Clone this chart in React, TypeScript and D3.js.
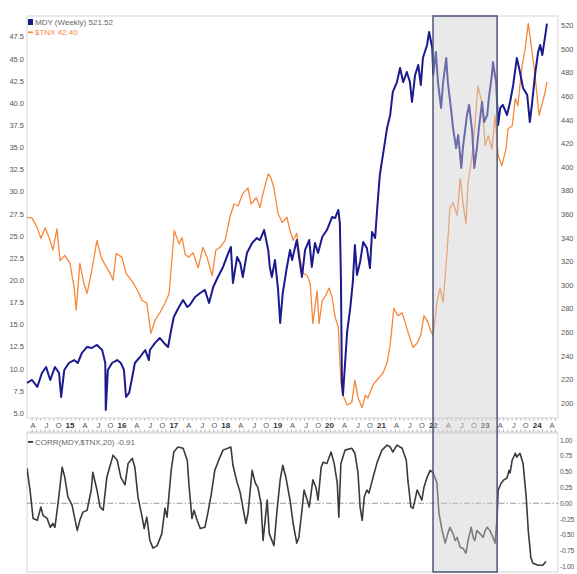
import * as d3 from "d3";

// $TNX (left axis), sampled off the weekly chart; dates as decimal years
const tnxYears = [
  2014.15, 2014.25, 2014.35, 2014.42, 2014.5, 2014.58, 2014.65, 2014.73, 2014.79, 2014.88, 2014.98,
  2015.06, 2015.1, 2015.17, 2015.25, 2015.31, 2015.4, 2015.5, 2015.58, 2015.66, 2015.75, 2015.81, 2015.87, 2015.98,
  2016.06, 2016.21, 2016.31, 2016.37, 2016.46, 2016.54, 2016.62, 2016.72, 2016.81, 2016.89, 2016.99,
  2017.08, 2017.14, 2017.2, 2017.27, 2017.35, 2017.45, 2017.54, 2017.62, 2017.72, 2017.79, 2017.87, 2017.97,
  2018.06, 2018.14, 2018.22, 2018.31, 2018.41, 2018.47, 2018.57, 2018.64, 2018.7, 2018.8, 2018.85, 2018.91, 2018.99,
  2019.07, 2019.16, 2019.22, 2019.28, 2019.35, 2019.41, 2019.47, 2019.55, 2019.61, 2019.66, 2019.74, 2019.78, 2019.84, 2019.91, 2019.97,
  2020.03, 2020.09, 2020.15, 2020.2, 2020.24, 2020.32, 2020.41, 2020.47, 2020.53, 2020.61, 2020.67, 2020.72, 2020.82, 2020.92,
  2021.01, 2021.09, 2021.15, 2021.22, 2021.3, 2021.38, 2021.44, 2021.51, 2021.59, 2021.67, 2021.74, 2021.8, 2021.88, 2021.94, 2021.98,
  2022.05, 2022.11, 2022.17, 2022.25, 2022.3, 2022.36, 2022.44, 2022.5, 2022.55, 2022.61, 2022.65, 2022.73, 2022.78, 2022.84, 2022.92, 2022.98,
  2023.04, 2023.11, 2023.17, 2023.23, 2023.3, 2023.38, 2023.42, 2023.5, 2023.56, 2023.61, 2023.69, 2023.75, 2023.81, 2023.86, 2023.92, 2023.98,
  2024.02, 2024.08, 2024.13, 2024.17,
];
const tnxValues = [
  27.1, 27.0, 25.9, 24.7, 25.9, 24.8, 23.4, 25.8, 22.2, 22.8, 21.9,
  19.2, 16.6, 21.9, 19.6, 18.5, 21.1, 24.5, 22.6, 21.7, 20.8, 20.0, 23.0, 22.6,
  20.8, 19.6, 18.5, 17.7, 17.4, 14.0, 15.5, 16.4, 17.4, 18.5, 25.6,
  24.1, 24.8, 22.9, 22.6, 23.1, 21.4, 23.7, 22.6, 20.5, 23.4, 23.7, 24.5,
  27.1, 28.6, 28.4, 29.8, 30.4, 28.6, 29.3, 28.2, 29.8, 32.0, 31.6, 30.4, 27.5,
  26.5, 27.1, 25.6, 24.5, 25.3, 22.6, 20.8, 20.5, 19.6, 15.1, 18.8, 15.1, 17.7, 18.3, 19.1,
  18.1, 15.8, 14.7, 8.5, 7.0, 5.9, 6.2, 8.7, 6.7, 5.6, 7.0, 6.7, 8.2, 8.9,
  9.5, 10.7, 12.7, 16.8, 16.0, 16.3, 15.2, 13.8, 12.4, 12.9, 13.8, 16.0, 15.2, 14.1, 13.8,
  17.5, 19.1, 17.5, 23.6, 28.1, 28.8, 27.3, 31.5, 28.8, 26.4, 31.0, 34.1, 37.4, 41.9, 40.0, 35.2,
  36.3, 34.8, 38.6, 34.1, 32.9, 34.8, 37.1, 37.4, 40.5, 39.7, 44.2, 46.1, 49.0, 46.8, 44.2, 40.8,
  38.6, 40.0, 41.1, 42.4,
];

// MDY weekly close (right axis)
const mdyYears = [
  2014.15, 2014.25, 2014.35, 2014.44, 2014.52, 2014.6, 2014.69, 2014.77, 2014.81, 2014.87, 2014.96,
  2015.06, 2015.13, 2015.21, 2015.31, 2015.4, 2015.5, 2015.6, 2015.66, 2015.67, 2015.71, 2015.79, 2015.89, 2015.96,
  2016.02, 2016.06, 2016.12, 2016.18, 2016.23, 2016.33, 2016.43, 2016.5, 2016.52, 2016.62, 2016.71, 2016.79, 2016.87, 2016.93, 2016.98,
  2017.08, 2017.16, 2017.24, 2017.29, 2017.39, 2017.49, 2017.58, 2017.66, 2017.74, 2017.83, 2017.93,
  2018.03, 2018.08, 2018.12, 2018.2, 2018.26, 2018.31, 2018.39, 2018.49, 2018.58, 2018.64, 2018.72, 2018.8, 2018.83, 2018.87, 2018.93, 2018.99,
  2019.03, 2019.08, 2019.16, 2019.22, 2019.26, 2019.35, 2019.41, 2019.45, 2019.51, 2019.59, 2019.64, 2019.7, 2019.76, 2019.84, 2019.93,
  2020.03, 2020.09, 2020.15, 2020.18, 2020.2, 2020.22, 2020.24, 2020.32, 2020.38, 2020.43, 2020.47, 2020.51, 2020.57, 2020.63, 2020.7, 2020.76, 2020.8, 2020.86, 2020.9, 2020.95,
  2021.01, 2021.09, 2021.15, 2021.2, 2021.28, 2021.34, 2021.4, 2021.47, 2021.53, 2021.57, 2021.63, 2021.69, 2021.74, 2021.78, 2021.86, 2021.9, 2021.96, 2021.98,
  2022.03, 2022.07, 2022.13, 2022.17, 2022.23, 2022.26, 2022.32, 2022.36, 2022.42, 2022.46, 2022.52, 2022.55, 2022.63, 2022.67, 2022.73, 2022.77, 2022.82, 2022.86, 2022.92, 2022.96,
  2023.02, 2023.05, 2023.11, 2023.13, 2023.19, 2023.23, 2023.27, 2023.32, 2023.4, 2023.46, 2023.52, 2023.59, 2023.65, 2023.71, 2023.79, 2023.84, 2023.88, 2023.94,
  2024.0, 2024.04, 2024.08, 2024.13, 2024.17,
];
const mdyValues = [
  217.0, 219.5, 213.6, 225.4, 230.5, 219.5, 230.5, 225.4, 205.1, 228.0, 233.9,
  236.4, 233.9, 242.4, 247.5, 246.6, 249.2, 244.9, 233.9, 194.1, 228.0, 233.9, 236.4, 233.9,
  228.0, 205.1, 208.5, 222.0, 233.9, 239.0, 244.9, 236.4, 244.9, 250.9, 255.1, 250.9, 247.5, 261.9, 272.9,
  281.4, 287.3, 281.4, 283.1, 289.8, 293.2, 295.8, 284.8, 298.3, 306.8, 315.3,
  327.1, 332.2, 301.7, 323.7, 318.7, 306.8, 327.1, 335.6, 339.8, 338.1, 346.6, 329.7, 315.3, 306.8, 321.2, 295.8,
  267.8, 293.2, 315.3, 329.7, 321.2, 338.1, 318.7, 306.8, 329.7, 338.1, 315.3, 335.6, 327.1, 340.7, 346.6,
  357.6, 356.8, 363.6, 352.6, 306.8, 217.0, 206.8, 260.2, 280.5, 302.5, 333.9, 308.5, 319.5, 336.4, 331.4, 314.4, 344.9, 339.8, 365.3, 393.2,
  410.2, 433.1, 444.1, 463.6, 472.0, 483.9, 472.0, 480.5, 472.0, 455.1, 478.0, 486.5, 469.5, 492.4, 503.4, 514.4, 500.9, 478.0,
  497.5, 472.0, 450.0, 472.0, 492.4, 472.0, 450.0, 433.1, 416.1, 427.1, 399.2, 416.1, 444.1, 452.6, 429.7, 399.2, 416.1, 433.1, 455.1, 438.1,
  444.1, 458.2, 478.0, 489.0, 472.0, 435.6, 450.0, 452.6, 444.1, 455.1, 469.5, 492.4, 480.5, 467.0, 461.0, 438.1, 452.6, 478.0,
  497.5, 503.4, 494.9, 509.3, 521.5,
];

// CORR(MDY,$TNX,20) in the lower panel
const corrYears = [
  2014.15, 2014.21, 2014.27, 2014.35, 2014.42, 2014.46, 2014.54, 2014.6, 2014.65, 2014.69, 2014.75, 2014.83, 2014.88, 2014.94,
  2015.02, 2015.08, 2015.12, 2015.17, 2015.23, 2015.31, 2015.39, 2015.42, 2015.5, 2015.56, 2015.62, 2015.69, 2015.81, 2015.89, 2015.96,
  2016.04, 2016.1, 2016.18, 2016.23, 2016.29, 2016.37, 2016.41, 2016.46, 2016.52, 2016.58, 2016.66, 2016.75, 2016.81, 2016.85, 2016.93, 2016.98,
  2017.06, 2017.16, 2017.24, 2017.27, 2017.33, 2017.37, 2017.43, 2017.49, 2017.58, 2017.64, 2017.7, 2017.77, 2017.87, 2017.93,
  2018.08, 2018.12, 2018.2, 2018.26, 2018.31, 2018.37, 2018.41, 2018.49, 2018.55, 2018.6, 2018.66, 2018.7, 2018.74, 2018.78, 2018.82, 2018.91, 2018.97,
  2019.03, 2019.08, 2019.14, 2019.22, 2019.28, 2019.35, 2019.39, 2019.45, 2019.49, 2019.55, 2019.59, 2019.66, 2019.72, 2019.76, 2019.82, 2019.86, 2019.93,
  2020.01, 2020.07, 2020.13, 2020.16, 2020.2, 2020.28, 2020.41, 2020.47, 2020.53, 2020.57, 2020.61, 2020.65, 2020.7, 2020.74, 2020.82, 2020.9, 2020.99,
  2021.09, 2021.15, 2021.2, 2021.28, 2021.38, 2021.46, 2021.49, 2021.55, 2021.59, 2021.67, 2021.76, 2021.8, 2021.86, 2021.92, 2021.98,
  2022.05, 2022.09, 2022.15, 2022.21, 2022.26, 2022.3, 2022.36, 2022.4, 2022.44, 2022.5, 2022.55, 2022.61, 2022.65, 2022.71, 2022.75, 2022.78, 2022.82, 2022.88, 2022.94, 2022.98,
  2023.02, 2023.07, 2023.13, 2023.17, 2023.21, 2023.23, 2023.29, 2023.34, 2023.4, 2023.44, 2023.46, 2023.5, 2023.56, 2023.59, 2023.65, 2023.71, 2023.77, 2023.81, 2023.86, 2023.9,
  2024.0, 2024.09, 2024.15,
];
const corrValues = [
  0.56, 0.21, -0.24, -0.27, -0.06, -0.19, -0.24, -0.38, -0.32, -0.38, 0.0, 0.57, 0.41, 0.1,
  -0.03, -0.27, -0.43, -0.27, -0.14, -0.11, 0.21, 0.49, 0.21, -0.06, -0.11, 0.41, 0.76, 0.68, 0.41,
  0.29, 0.63, 0.71, 0.57, 0.1, -0.22, -0.4, -0.22, -0.59, -0.71, -0.67, -0.48, -0.08, -0.22, 0.52, 0.81,
  0.89, 0.87, 0.68, 0.32, -0.24, -0.11, -0.27, -0.4, -0.38, -0.14, 0.13, 0.52, 0.73, 0.84,
  0.89, 0.6, 0.33, 0.17, -0.06, -0.32, -0.16, 0.52, 0.32, 0.25, 0.0, -0.59, -0.27, 0.05, -0.48, -0.67, -0.11,
  0.37, 0.6, 0.41, 0.05, -0.32, -0.63, -0.54, -0.11, 0.21, 0.05, -0.06, 0.37, 0.25, 0.05, 0.57, 0.65, 0.63,
  0.81, 0.63, 0.32, -0.22, 0.63, 0.84, 0.87, 0.79, 0.48, -0.06, -0.27, 0.1, 0.21, 0.16, 0.41, 0.65, 0.84,
  0.92, 0.89, 0.81, 0.92, 0.87, 0.68, 0.37, -0.06, -0.08, 0.21, 0.05, 0.25, 0.41, 0.52, 0.48,
  0.32, -0.16, -0.43, -0.63, -0.48, -0.38, -0.48, -0.59, -0.54, -0.7, -0.71, -0.79, -0.59, -0.38, -0.54, -0.59, -0.43, -0.48, -0.54, -0.43,
  -0.38, -0.43, -0.54, -0.63, -0.22, 0.21, 0.32, 0.37, 0.4, 0.52, 0.48, 0.68, 0.79, 0.73, 0.79, 0.63, 0.1, -0.43, -0.86, -0.95,
  -0.98, -0.98, -0.92,
];

const tnxTicks = d3.range(0, 18).map((i) => 5 + i * 2.5);
const mdyTicks = d3.range(0, 17).map((i) => 200 + i * 20);
const corrTicks = [1, 0.75, 0.5, 0.25, 0, -0.25, -0.5, -0.75, -1];
const axisYears = d3.range(2015, 2025);
const monthLetters = ["A", "J", "O"];

// highlighted window (Jan 2022 - Mar 2023)
const boxStart = 2021.975;
const boxEnd = 2023.21;

const FONT = "'Liberation Sans', Arial, sans-serif";
const BLUE = "#1b1a8e";
const ORANGE = "#f7873a";

export default function App() {
  const left = 27;
  const right = 558;
  const mainTop = 16;
  const mainBottom = 418;
  const stripBottom = 432;
  const lowTop = 433;
  const lowBottom = 572;

  const x = d3.scaleLinear().domain([2014.152, 2024.383]).range([left, right]);
  const yTnx = d3.scaleLinear().domain([5, 47.5]).range([413, 36.6]);
  const yMdy = d3.scaleLinear().domain([200, 520]).range([403, 25.4]);
  const yCorr = d3.scaleLinear().domain([-1, 1]).range([566.5, 440]);

  const tnxLine = d3
    .line<number>()
    .x((_, i) => x(tnxYears[i]))
    .y((d) => yTnx(d));
  const mdyLine = d3
    .line<number>()
    .x((_, i) => x(mdyYears[i]))
    .y((d) => yMdy(d));
  const corrLine = d3
    .line<number>()
    .x((_, i) => x(corrYears[i]))
    .y((d) => yCorr(d));

  // quarter labels along the date strip
  const quarterLabels: { t: number; text: string; bold: boolean }[] = [];
  for (const yr of [2014, ...axisYears]) {
    if (yr > 2014) quarterLabels.push({ t: yr, text: String(yr).slice(2), bold: true });
    monthLetters.forEach((m, i) => {
      const t = yr + 0.25 * (i + 1);
      if (t < 2024.3) quarterLabels.push({ t, text: m, bold: false });
    });
  }
  const monthTicks = d3.range(2014.25, 2024.35, 1 / 12);

  const labelNudge = 3.5;

  return (
    <svg
      width={577}
      height={574}
      style={{ position: "absolute", left: 0, top: 0, background: "#fff" }}
      fontFamily={FONT}
    >
      <defs>
        <clipPath id="mainClip">
          <rect x={left} y={mainTop} width={right - left} height={mainBottom - mainTop} />
        </clipPath>
        <clipPath id="lowClip">
          <rect x={left} y={lowTop} width={right - left} height={lowBottom - lowTop} />
        </clipPath>
      </defs>

      {/* panel frames */}
      <rect x={left} y={mainTop} width={right - left} height={mainBottom - mainTop} fill="#fff" stroke="#d4d4d4" />
      <rect x={left} y={lowTop} width={right - left} height={lowBottom - lowTop} fill="#fff" stroke="#d4d4d4" />
      <line x1={left} x2={right} y1={stripBottom} y2={stripBottom} stroke="#d4d4d4" />

      {/* month ticks on the date strip */}
      {monthTicks.map((t, i) => (
        <g key={i} stroke="#bbb">
          <line x1={x(t)} x2={x(t)} y1={mainBottom} y2={mainBottom + 2.5} />
          <line x1={x(t)} x2={x(t)} y1={stripBottom - 2.5} y2={stripBottom} />
        </g>
      ))}
      {quarterLabels.map((q, i) => (
        <text
          key={i}
          x={x(q.t) + labelNudge}
          y={428}
          fontSize={q.bold ? 8 : 7.5}
          fontWeight={q.bold ? "bold" : "normal"}
          fill={q.bold ? "#333" : "#555"}
          textAnchor="end"
        >
          {q.text}
        </text>
      ))}

      {/* left axis: $TNX */}
      {tnxTicks.map((v) => (
        <text key={v} x={24} y={yTnx(v) + 2.8} fontSize={7.5} fill="#555" textAnchor="end">
          {v.toFixed(1)}
        </text>
      ))}
      {/* right axis: MDY */}
      {mdyTicks.map((v) => (
        <text key={v} x={561} y={yMdy(v) + 2.8} fontSize={7.5} fill="#555">
          {v}
        </text>
      ))}
      {/* right axis: correlation */}
      {corrTicks.map((v) => (
        <text key={v} x={560} y={yCorr(v) + 2.6} fontSize={6.8} fill="#555" letterSpacing={-0.3}>
          {v.toFixed(2)}
        </text>
      ))}

      {/* series */}
      <g clipPath="url(#mainClip)">
        <path d={tnxLine(tnxValues) ?? ""} fill="none" stroke={ORANGE} strokeWidth={1.3} strokeLinejoin="round" />
        <path d={mdyLine(mdyValues) ?? ""} fill="none" stroke={BLUE} strokeWidth={2} strokeLinejoin="round" />
      </g>
      <g clipPath="url(#lowClip)">
        <line
          x1={left}
          x2={right}
          y1={yCorr(0)}
          y2={yCorr(0)}
          stroke="#9a9a9a"
          strokeWidth={1}
          strokeDasharray="6 2 1.5 2"
        />
        <path d={corrLine(corrValues) ?? ""} fill="none" stroke="#3b3b3b" strokeWidth={1.6} strokeLinejoin="round" />
      </g>

      {/* highlighted window over both panels */}
      <rect
        x={x(boxStart)}
        y={mainTop}
        width={x(boxEnd) - x(boxStart)}
        height={lowBottom - mainTop}
        fill="#cfcfcf"
        fillOpacity={0.45}
        stroke="#4b5674"
        strokeWidth={1.5}
      />

      {/* legends */}
      <rect x={28} y={19} width={5} height={6} fill={BLUE} />
      <text x={35} y={25} fontSize={8} fill="#666">
        MDY (Weekly) 521.52
      </text>
      <rect x={28} y={31.5} width={5} height={1.6} fill={ORANGE} />
      <text x={35} y={35} fontSize={8} fill={ORANGE}>
        $TNX 42.40
      </text>
      <rect x={28} y={441} width={5} height={1.8} fill="#333" />
      <text x={35} y={445} fontSize={8} fill="#666">
        CORR(MDY,$TNX,20) -0.91
      </text>
    </svg>
  );
}
